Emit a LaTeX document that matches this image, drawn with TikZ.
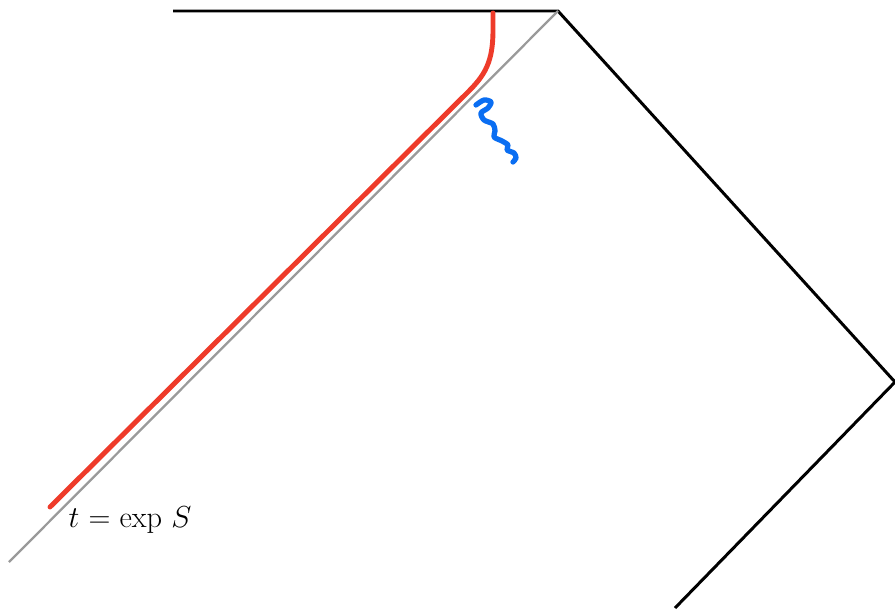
\documentclass[tikz,border=0pt]{standalone}
\usepackage{amsmath}
\usetikzlibrary{positioning}
\definecolor{vermelho}{HTML}{EE3B2A}
\definecolor{azul}{HTML}{0A6EF2}
\definecolor{cinza}{HTML}{9A9A9A}

\begin{document}
\begin{tikzpicture}[x=0.02cm, y=-0.02cm,
        borda/.style={line width=1.7pt, black},
        horiz/.style={line width=1.3pt, cinza},
        traj/.style={line width=2.8pt, vermelho, line cap=round},
        onda/.style={line width=3pt, azul, line cap=round, line join=round},
        rot/.style={font=\LARGE, inner sep=0pt}]
        \useasboundingbox (0,0) rectangle (895,609);
        \coordinate (topo) at (173,11);
        \coordinate (pico) at (558,11);
        \coordinate (dir) at (895,382);
        \coordinate (base) at (675,608);
        \coordinate (fim) at (9,562);
        % bordas do diagrama
        \draw[borda] (topo) -- (pico) -- (dir) -- (base);
        \draw[horiz] (pico) -- (fim);
        % trajetoria
        \coordinate (t0) at (493,13);
        \coordinate (t1) at (468,92);
        \coordinate (t2) at (50,507);
        \draw[traj] (t0) -- (493,30) .. controls (493,62) and (485,75) .. (t1) -- (t2);
        % radiacao
        \draw[onda] plot[smooth, tension=0.5] coordinates {(476,105) (484,100) (491,102) (488,108) (481,113) (484,120) (493,124) (495,131) (494,137) (502,141) (508,145) (507,150) (514,153) (516,158) (513,162)};
        \node[rot] (lbl) at (130,520) {$t$ = exp $S$};
    \end{tikzpicture}
\end{document}
